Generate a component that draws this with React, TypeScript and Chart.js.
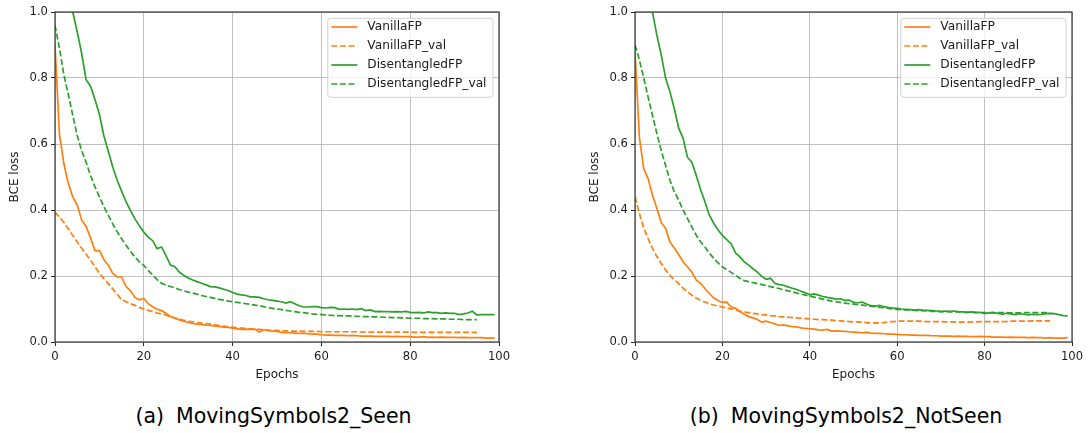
import React, { useEffect, useRef } from "react";
import { Chart, registerables } from "chart.js";

Chart.register(...registerables);

// ---------- data ----------
const SERIES_LABELS = ["VanillaFP", "VanillaFP_val", "DisentangledFP", "DisentangledFP_val"];
const X_TICKS = [0, 20, 40, 60, 80, 100];
const Y_TICKS = [0, 0.2, 0.4, 0.6, 0.8, 1.0];
const CAPTION_A_TAG = "(a)";
const CAPTION_A = "MovingSymbols2_Seen";
const CAPTION_B_TAG = "(b)";
const CAPTION_B = "MovingSymbols2_NotSeen";

// (a) Seen
const SEEN_VANILLA = [
  0.900, 0.630, 0.540, 0.480, 0.440, 0.415, 0.370, 0.350, 0.315, 0.277,
  0.277, 0.250, 0.233, 0.208, 0.197, 0.197, 0.168, 0.155, 0.135, 0.128,
  0.132, 0.116, 0.107, 0.099, 0.095, 0.087, 0.077, 0.072, 0.067, 0.063,
  0.059, 0.056, 0.054, 0.053, 0.051, 0.050, 0.048, 0.047, 0.045, 0.044,
  0.042, 0.040, 0.038, 0.039, 0.038, 0.039, 0.030, 0.037, 0.034, 0.033,
  0.032, 0.029, 0.028, 0.028, 0.027, 0.026, 0.026, 0.025, 0.024, 0.024,
  0.022, 0.021, 0.021, 0.020, 0.020, 0.020, 0.019, 0.020, 0.019, 0.018,
  0.018, 0.018, 0.017, 0.017, 0.017, 0.017, 0.016, 0.017, 0.016, 0.016,
  0.016, 0.015, 0.015, 0.016, 0.014, 0.015, 0.014, 0.015, 0.014, 0.014,
  0.014, 0.013, 0.014, 0.013, 0.013, 0.013, 0.013, 0.012, 0.012, 0.012,
];
const SEEN_VANILLA_VAL = [
  0.394, 0.378, 0.362, 0.343, 0.323, 0.303, 0.284, 0.266, 0.248, 0.228,
  0.208, 0.192, 0.177, 0.161, 0.145, 0.128, 0.122, 0.116, 0.111, 0.105,
  0.100, 0.096, 0.092, 0.088, 0.085, 0.081, 0.077, 0.073, 0.069, 0.066,
  0.063, 0.061, 0.059, 0.057, 0.056, 0.054, 0.052, 0.050, 0.048, 0.046,
  0.045, 0.043, 0.042, 0.041, 0.040, 0.039, 0.038, 0.037, 0.036, 0.035,
  0.035, 0.034, 0.034, 0.033, 0.033, 0.033, 0.032, 0.032, 0.032, 0.032,
  0.031, 0.031, 0.031, 0.031, 0.031, 0.031, 0.031, 0.031, 0.031, 0.030,
  0.030, 0.030, 0.030, 0.030, 0.030, 0.030, 0.030, 0.030, 0.030, 0.030,
  0.030, 0.029, 0.029, 0.029, 0.029, 0.029, 0.029, 0.029, 0.029, 0.029,
  0.029, 0.029, 0.029, 0.029, 0.029, 0.029,
];
const SEEN_DISENT = [
  1.450, 1.320, 1.200, 1.090, 1.000, 0.940, 0.875, 0.795, 0.775, 0.735,
  0.690, 0.625, 0.578, 0.530, 0.490, 0.457, 0.425, 0.398, 0.373, 0.352,
  0.333, 0.318, 0.307, 0.283, 0.288, 0.262, 0.233, 0.228, 0.212, 0.202,
  0.194, 0.188, 0.183, 0.178, 0.173, 0.168, 0.167, 0.164, 0.160, 0.156,
  0.150, 0.145, 0.143, 0.141, 0.137, 0.137, 0.135, 0.131, 0.128, 0.126,
  0.124, 0.122, 0.118, 0.122, 0.116, 0.110, 0.106, 0.106, 0.107, 0.107,
  0.104, 0.103, 0.105, 0.104, 0.099, 0.100, 0.099, 0.100, 0.098, 0.101,
  0.095, 0.097, 0.092, 0.093, 0.092, 0.092, 0.091, 0.092, 0.091, 0.093,
  0.090, 0.089, 0.090, 0.088, 0.091, 0.089, 0.089, 0.087, 0.088, 0.087,
  0.087, 0.083, 0.085, 0.088, 0.093, 0.082, 0.083, 0.083, 0.083, 0.083,
];
const SEEN_DISENT_VAL = [
  0.960, 0.890, 0.810, 0.750, 0.687, 0.626, 0.580, 0.545, 0.505, 0.470,
  0.440, 0.410, 0.384, 0.358, 0.334, 0.313, 0.293, 0.274, 0.258, 0.243,
  0.232, 0.217, 0.203, 0.189, 0.178, 0.172, 0.168, 0.164, 0.159, 0.155,
  0.151, 0.148, 0.145, 0.141, 0.138, 0.135, 0.132, 0.129, 0.127, 0.124,
  0.122, 0.120, 0.118, 0.116, 0.114, 0.112, 0.109, 0.107, 0.104, 0.102,
  0.100, 0.098, 0.096, 0.094, 0.092, 0.090, 0.089, 0.087, 0.085, 0.084,
  0.083, 0.082, 0.081, 0.080, 0.080, 0.079, 0.079, 0.078, 0.078, 0.077,
  0.077, 0.077, 0.076, 0.076, 0.075, 0.075, 0.074, 0.074, 0.073, 0.073,
  0.072, 0.072, 0.072, 0.071, 0.071, 0.071, 0.070, 0.070, 0.070, 0.069,
  0.069, 0.069, 0.068, 0.068, 0.068, 0.068,
];

// (b) NotSeen
const NOTSEEN_VANILLA = [
  0.880, 0.620, 0.525, 0.495, 0.445, 0.405, 0.362, 0.345, 0.303, 0.285,
  0.265, 0.243, 0.228, 0.212, 0.188, 0.178, 0.162, 0.147, 0.134, 0.126,
  0.120, 0.121, 0.106, 0.102, 0.092, 0.084, 0.077, 0.073, 0.068, 0.060,
  0.063, 0.059, 0.055, 0.050, 0.052, 0.049, 0.047, 0.046, 0.043, 0.041,
  0.040, 0.039, 0.037, 0.036, 0.038, 0.033, 0.034, 0.033, 0.032, 0.031,
  0.030, 0.029, 0.028, 0.029, 0.027, 0.026, 0.026, 0.025, 0.024, 0.024,
  0.023, 0.022, 0.022, 0.021, 0.021, 0.020, 0.020, 0.020, 0.019, 0.019,
  0.018, 0.018, 0.018, 0.017, 0.018, 0.017, 0.017, 0.016, 0.016, 0.017,
  0.016, 0.016, 0.015, 0.015, 0.015, 0.014, 0.015, 0.014, 0.014, 0.014,
  0.013, 0.014, 0.013, 0.013, 0.012, 0.013, 0.012, 0.012, 0.012, 0.013,
];
const NOTSEEN_VANILLA_VAL = [
  0.440, 0.390, 0.345, 0.313, 0.284, 0.259, 0.238, 0.218, 0.202, 0.188,
  0.177, 0.163, 0.152, 0.142, 0.133, 0.126, 0.121, 0.116, 0.112, 0.109,
  0.106, 0.103, 0.100, 0.097, 0.094, 0.091, 0.089, 0.087, 0.085, 0.083,
  0.082, 0.080, 0.079, 0.077, 0.076, 0.075, 0.074, 0.073, 0.072, 0.071,
  0.070, 0.069, 0.068, 0.068, 0.067, 0.066, 0.065, 0.064, 0.063, 0.062,
  0.061, 0.061, 0.060, 0.059, 0.058, 0.058, 0.058, 0.059, 0.061, 0.062,
  0.063, 0.063, 0.063, 0.063, 0.063, 0.063, 0.062, 0.062, 0.062, 0.062,
  0.062, 0.061, 0.061, 0.061, 0.060, 0.060, 0.060, 0.061, 0.061, 0.062,
  0.062, 0.062, 0.062, 0.062, 0.062, 0.062, 0.063, 0.063, 0.063, 0.063,
  0.063, 0.064, 0.064, 0.064, 0.064, 0.064,
];
const NOTSEEN_DISENT = [
  1.450, 1.320, 1.200, 1.090, 1.000, 0.930, 0.870, 0.800, 0.758, 0.707,
  0.648, 0.618, 0.560, 0.545, 0.505, 0.462, 0.425, 0.385, 0.360, 0.340,
  0.323, 0.310, 0.298, 0.270, 0.258, 0.243, 0.233, 0.222, 0.212, 0.199,
  0.190, 0.193, 0.178, 0.174, 0.172, 0.167, 0.163, 0.159, 0.154, 0.149,
  0.143, 0.146, 0.142, 0.138, 0.135, 0.133, 0.130, 0.131, 0.126, 0.127,
  0.120, 0.119, 0.121, 0.115, 0.110, 0.109, 0.111, 0.107, 0.104, 0.103,
  0.102, 0.100, 0.099, 0.098, 0.097, 0.098, 0.096, 0.096, 0.095, 0.094,
  0.092, 0.094, 0.093, 0.094, 0.092, 0.091, 0.090, 0.091, 0.089, 0.090,
  0.086, 0.088, 0.089, 0.087, 0.084, 0.087, 0.085, 0.083, 0.086, 0.084,
  0.082, 0.084, 0.083, 0.084, 0.086, 0.087, 0.086, 0.083, 0.080, 0.079,
];
const NOTSEEN_DISENT_VAL = [
  0.900, 0.855, 0.800, 0.742, 0.687, 0.632, 0.580, 0.535, 0.490, 0.455,
  0.430, 0.400, 0.374, 0.349, 0.324, 0.304, 0.288, 0.269, 0.254, 0.240,
  0.228, 0.219, 0.211, 0.202, 0.193, 0.186, 0.183, 0.180, 0.177, 0.174,
  0.171, 0.168, 0.165, 0.162, 0.158, 0.155, 0.152, 0.148, 0.145, 0.142,
  0.139, 0.136, 0.133, 0.130, 0.127, 0.124, 0.122, 0.120, 0.118, 0.116,
  0.115, 0.113, 0.112, 0.110, 0.108, 0.107, 0.105, 0.104, 0.102, 0.100,
  0.099, 0.098, 0.097, 0.097, 0.096, 0.095, 0.095, 0.094, 0.093, 0.093,
  0.092, 0.092, 0.091, 0.091, 0.091, 0.090, 0.090, 0.090, 0.090, 0.089,
  0.089, 0.089, 0.089, 0.089, 0.089, 0.089, 0.088, 0.088, 0.088, 0.089,
  0.089, 0.089, 0.089, 0.089, 0.089, 0.089,
];

// ---------- styles ----------
const ORANGE = "#ff7f0e";
const GREEN = "#2ca02c";
const SERIES_COLORS = [ORANGE, ORANGE, GREEN, GREEN];
const SERIES_DASHED = [false, true, false, true];
const FONT = "'DejaVu Sans', sans-serif";
const TEXT = "#1a1a1a";
const DASH = [6, 2.6];
const LW = 1.7;
const TICK_SIZE = 11.6;
const TITLE_SIZE = 12;
const LEGEND_SIZE = 12.2;

const toPoints = (vals: number[]) => vals.map((v, i) => ({ x: i, y: v }));

const framePlugin = {
  id: "frameAndLegend",
  afterDatasetsDraw(chart: any) {
    const { ctx, chartArea } = chart;
    const { left, right, top, bottom } = chartArea;
    ctx.save();
    ctx.strokeStyle = "#262626";
    ctx.lineWidth = 1.1;
    ctx.setLineDash([]);
    ctx.strokeRect(Math.round(left), Math.round(top), Math.round(right - left), Math.round(bottom - top));
    ctx.restore();

    // legend (upper right, inside the axes)
    ctx.save();
    ctx.font = `${LEGEND_SIZE}px ${FONT}`;
    const dsets = chart.data.datasets;
    let maxW = 0;
    dsets.forEach((d: any) => { maxW = Math.max(maxW, ctx.measureText(d.label).width); });
    const padL = 3.5, lineLen = 26, gap = 10, padR = 6.5;
    const w = padL + lineLen + gap + maxW + padR;
    const h = 79;
    const x0 = right - 6 - w;
    const y0 = top + 6.3;
    const r = 3;
    ctx.beginPath();
    ctx.moveTo(x0 + r, y0);
    ctx.lineTo(x0 + w - r, y0);
    ctx.quadraticCurveTo(x0 + w, y0, x0 + w, y0 + r);
    ctx.lineTo(x0 + w, y0 + h - r);
    ctx.quadraticCurveTo(x0 + w, y0 + h, x0 + w - r, y0 + h);
    ctx.lineTo(x0 + r, y0 + h);
    ctx.quadraticCurveTo(x0, y0 + h, x0, y0 + h - r);
    ctx.lineTo(x0, y0 + r);
    ctx.quadraticCurveTo(x0, y0, x0 + r, y0);
    ctx.closePath();
    ctx.fillStyle = "rgba(255,255,255,0.8)";
    ctx.fill();
    ctx.strokeStyle = "rgba(204,204,204,0.9)";
    ctx.lineWidth = 1;
    ctx.stroke();
    dsets.forEach((d: any, i: number) => {
      const cy = y0 + 8.7 + i * 19;
      ctx.strokeStyle = d.borderColor;
      ctx.lineWidth = LW;
      ctx.setLineDash(d.borderDash || []);
      ctx.beginPath();
      ctx.moveTo(x0 + padL, cy);
      ctx.lineTo(x0 + padL + lineLen, cy);
      ctx.stroke();
      ctx.setLineDash([]);
      ctx.fillStyle = TEXT;
      ctx.textBaseline = "middle";
      ctx.textAlign = "left";
      ctx.fillText(d.label, x0 + padL + lineLen + gap, cy);
    });
    ctx.restore();
  },
};

type PanelProps = {
  left: number;
  width: number;
  series: number[][];
  padRight: number;
};

function Panel({ left, width, series, padRight }: PanelProps) {
  const ref = useRef<HTMLCanvasElement>(null);
  useEffect(() => {
    if (!ref.current) return;
    const chart = new Chart(ref.current, {
      type: "line",
      data: {
        datasets: series.map((vals, i) => ({
          label: SERIES_LABELS[i],
          data: toPoints(vals),
          borderColor: SERIES_COLORS[i],
          backgroundColor: SERIES_COLORS[i],
          borderWidth: LW,
          borderDash: SERIES_DASHED[i] ? DASH : [],
          pointRadius: 0,
          fill: false,
          tension: 0,
        })),
      },
      options: {
        animation: false,
        responsive: false,
        devicePixelRatio: 1,
        layout: { padding: { top: 12, right: padRight, bottom: 17, left: 0 } },
        plugins: { legend: { display: false }, tooltip: { enabled: false } },
        scales: {
          x: {
            type: "linear",
            min: 0,
            max: 100,
            afterBuildTicks: (s: any) => { s.ticks = X_TICKS.map((v) => ({ value: v })); },
            afterFit: (s: any) => { s.height = 41; },
            ticks: { font: { family: FONT, size: TICK_SIZE }, color: TEXT, padding: 4.5, maxRotation: 0 },
            grid: { color: "#b0b0b0", lineWidth: 0.8, tickColor: "#262626", tickLength: 4, tickWidth: 1 },
            border: { display: false },
            title: { display: true, text: "Epochs", font: { family: FONT, size: TITLE_SIZE }, color: TEXT, padding: { top: 0, bottom: 1 } },
          },
          y: {
            type: "linear",
            min: 0,
            max: 1,
            afterBuildTicks: (s: any) => { s.ticks = Y_TICKS.map((v) => ({ value: v })); },
            afterFit: (s: any) => { s.width = 55; },
            ticks: {
              font: { family: FONT, size: TICK_SIZE },
              color: TEXT,
              padding: 3,
              callback: (v: any) => Number(v).toFixed(1),
            },
            grid: { color: "#b0b0b0", lineWidth: 0.8, tickColor: "#262626", tickLength: 4, tickWidth: 1 },
            border: { display: false },
            title: { display: true, text: "BCE loss", font: { family: FONT, size: TITLE_SIZE }, color: TEXT, padding: { top: 7.8, bottom: 0 } },
          },
        },
      },
      plugins: [framePlugin],
    } as any);
    return () => chart.destroy();
  }, []);
  return (
    <canvas
      ref={ref}
      width={width}
      height={400}
      style={{ position: "absolute", left, top: 0, width, height: 400 }}
    />
  );
}

function Caption({ center, tag, text }: { center: number; tag: string; text: string }) {
  return (
    <div
      style={{
        position: "absolute",
        left: center - 250,
        width: 500,
        top: 406,
        textAlign: "center",
        fontFamily: "'DejaVu Sans', sans-serif",
        fontSize: 20.5,
        lineHeight: "20.5px",
        color: "#000",
        whiteSpace: "nowrap",
      }}
    >
      <span style={{ marginRight: 12 }}>{tag}</span>
      <span>{text}</span>
    </div>
  );
}

export default function App() {
  return (
    <div style={{ position: "absolute", left: 0, top: 0, width: 1089, height: 433, background: "#fff", overflow: "hidden" }}>
      <Panel left={0} width={520} padRight={21} series={[SEEN_VANILLA, SEEN_VANILLA_VAL, SEEN_DISENT, SEEN_DISENT_VAL]} />
      <Panel left={580} width={509} padRight={17} series={[NOTSEEN_VANILLA, NOTSEEN_VANILLA_VAL, NOTSEEN_DISENT, NOTSEEN_DISENT_VAL]} />
      <Caption center={273.5} tag={CAPTION_A_TAG} text={CAPTION_A} />
      <Caption center={846} tag={CAPTION_B_TAG} text={CAPTION_B} />
    </div>
  );
}
